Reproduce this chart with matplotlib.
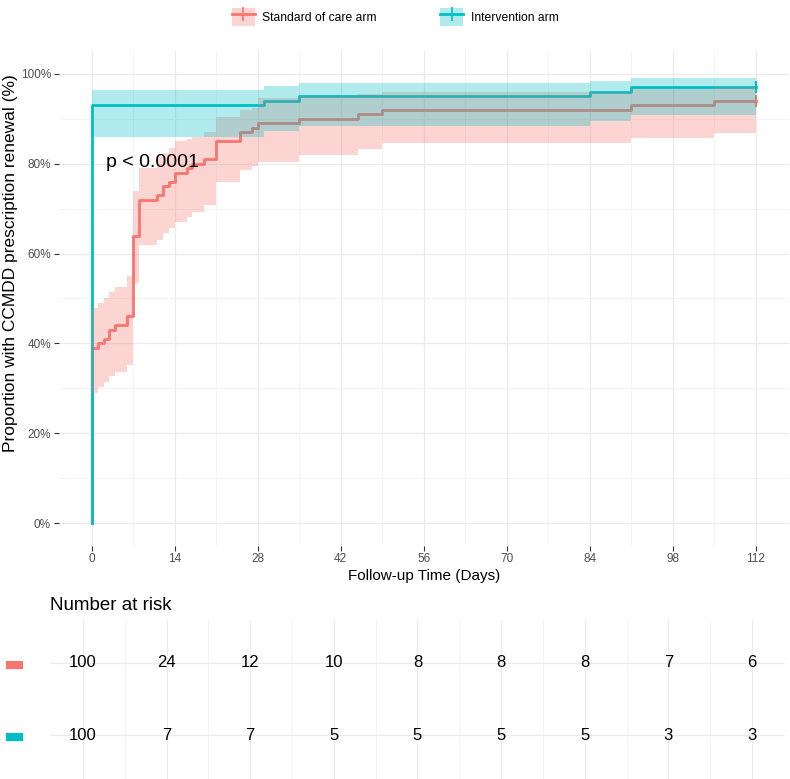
import matplotlib.pyplot as plt
from matplotlib.patches import Patch
from matplotlib.lines import Line2D
from matplotlib.legend_handler import HandlerTuple

plt.rcParams['font.family'] = ['Liberation Sans', 'DejaVu Sans']

# step curves: day of each step, % renewed after it
soc_days = [0, 1, 2, 3, 4, 6, 7, 8, 11, 12, 13, 14, 16, 17, 19, 21, 25, 27, 28, 35, 45, 49, 91, 105]
soc_pct = [39, 40, 41, 43, 44, 46, 64, 72, 73, 75, 76, 78, 79, 80, 81, 85, 87, 88, 89, 90, 91, 92, 93, 94]
soc_lower = [29, 30.4, 31.5, 32.7, 33.7, 35.2, 53.5, 62, 63, 64.5, 65.6, 67, 68.2, 69.3, 70.8,
             76, 78.6, 79.5, 80.5, 82, 83.2, 84.6, 85.7, 86.9]
soc_upper = [47.8, 48.9, 50, 51.5, 52.6, 55, 74, 79, 81.5, 82.5, 83.5, 85, 85.5, 86, 87,
             90.5, 92, 92.4, 94.6, 95.2, 95.6, 96, 96.6, 97.2]

int_days = [0, 29, 35, 84, 91]
int_pct = [93, 94, 95, 96, 97]
int_lower = [86, 87.3, 88.3, 89.5, 90.9]
int_upper = [96.4, 97.3, 97.9, 98.5, 99]

end_day = 112
groups = ['Standard of care arm', 'Intervention arm']
colors = ['#F8766D', '#00BFC4']

risk_days = [0, 14, 28, 42, 56, 70, 84, 98, 112]
soc_at_risk = [100, 24, 12, 10, 8, 8, 8, 7, 6]
int_at_risk = [100, 7, 7, 5, 5, 5, 5, 3, 3]

W, H = 790, 779
fig = plt.figure(figsize=(W / 100, H / 100), dpi=100)

ax = fig.add_axes([58.5 / W, (H - 545.5) / H, 730.3 / W, 494 / H])

curves = [(soc_days, soc_pct, soc_lower, soc_upper), (int_days, int_pct, int_lower, int_upper)]
for (days, pct, lo, hi), col in zip(curves, colors):
    x = [0] + days + [end_day]
    y = [0] + pct + [pct[-1]]
    ax.step(x, y, where='post', color=col, lw=2, zorder=2)
    ax.plot([end_day], [pct[-1]], marker='|', ms=8, mew=1.5, color=col, zorder=2)
    xb = days + [end_day]
    ax.fill_between(xb, lo + [lo[-1]], hi + [hi[-1]], step='post',
                    color=col, alpha=0.3, lw=0, zorder=3)

ax.text(2.4, 80.2, 'p < 0.0001', fontsize=14, va='center', ha='left', zorder=4)

ax.set_xlim(-5.6, end_day + 5.6)
ax.set_ylim(-5, 105)
ax.set_xticks(risk_days)
ax.set_xticks([7, 21, 35, 49, 63, 77, 91, 105], minor=True)
ax.set_yticks([0, 20, 40, 60, 80, 100])
ax.set_yticklabels([f'{v}%' for v in [0, 20, 40, 60, 80, 100]])
ax.set_yticks([10, 30, 50, 70, 90], minor=True)
ax.tick_params(which='major', length=3.5, width=0.8, color='#333333',
               labelcolor='#4D4D4D', labelsize=8.5, pad=2)
ax.tick_params(which='minor', length=0)
ax.set_axisbelow(True)
ax.grid(which='major', color='#EBEBEB', lw=0.9)
ax.grid(which='minor', color='#F3F3F3', lw=0.6)
for s in ax.spines.values():
    s.set_visible(False)

ax.set_xlabel('Follow-up Time (Days)', fontsize=11, labelpad=3)
ax.set_ylabel('Proportion with CCMDD prescription renewal (%)', fontsize=12.5)
ax.yaxis.set_label_coords(-0.0555, 0.572)

# legend: ribbon square with line and censor tick drawn on top of each other
handles = []
for col in colors:
    handles.append((Patch(facecolor=col, alpha=0.3, lw=0),
                    Line2D([], [], color=col, lw=2, marker='|', ms=10, mew=1.2)))
fig.legend(handles, groups, loc='center', bbox_to_anchor=(0.5, 1 - 17 / H), ncol=2,
           frameon=False, fontsize=8.7, handlelength=1.9, handleheight=1.9,
           handletextpad=0.6, columnspacing=5.3,
           handler_map={tuple: HandlerTuple(ndivide=1, pad=0)})

# number at risk table
tab = fig.add_axes([49.5 / W, 0, 735.9 / W, 159 / H])
tab.set_xlim(-5.6, end_day + 5.6)
tab.set_ylim(0.389, 2.597)
for row, counts in [(2, soc_at_risk), (1, int_at_risk)]:
    for d, n in zip(risk_days, counts):
        tab.text(d, row, str(n), ha='center', va='center', fontsize=12)
tab.set_xticks(risk_days)
tab.set_xticks([7, 21, 35, 49, 63, 77, 91, 105], minor=True)
tab.set_xticklabels([])
tab.set_yticks([2, 1])
tab.set_yticklabels(['\u25ac', '\u25ac'], family='DejaVu Sans', fontsize=16)
for lab, col in zip(tab.get_yticklabels(), colors):
    lab.set_color(col)
tab.tick_params(which='both', length=0, pad=18)
tab.grid(which='major', color='#EBEBEB', lw=0.9)
tab.grid(which='minor', axis='x', color='#F3F3F3', lw=0.6)
for s in tab.spines.values():
    s.set_visible(False)
fig.text(50 / W, 1 - 605 / H, 'Number at risk', fontsize=13.5, ha='left', va='center')

fig.savefig('out.png', dpi=100)
